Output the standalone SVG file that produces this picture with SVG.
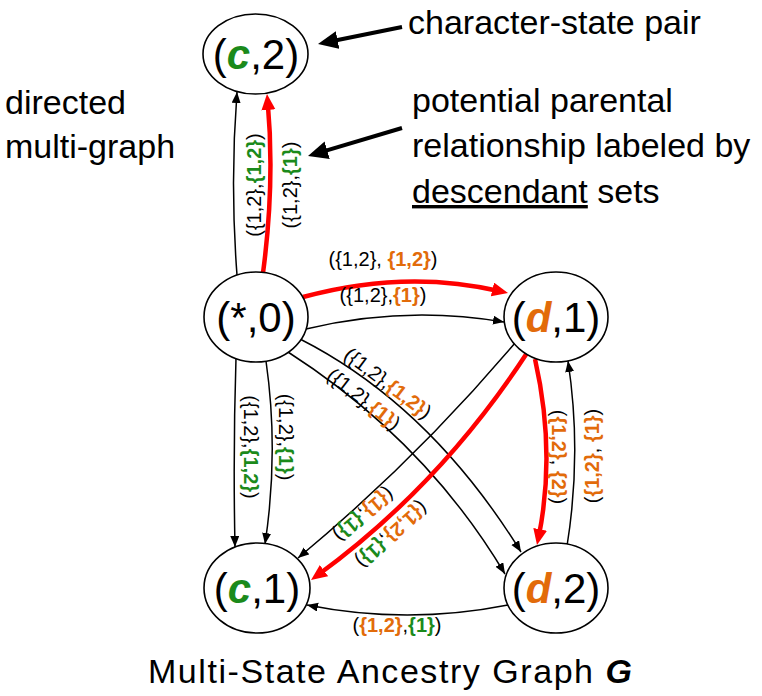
<svg xmlns="http://www.w3.org/2000/svg" width="762" height="696" viewBox="0 0 762 696">
<style>
text{font-family:"Liberation Sans",Arial,sans-serif;fill:#000}
.node ellipse{fill:#fff;stroke:#000;stroke-width:1.6}
.nl{font-size:42px;text-anchor:middle}
.g{fill:#1B8A1B;font-weight:bold}
.o{fill:#E26B0A;font-weight:bold}
.v{font-style:italic;font-weight:bold}
.el{font-size:20px;text-anchor:middle}
.ann{font-size:34px}
.bk{fill:none;stroke:#000;stroke-width:1.5;marker-end:url(#ab)}
.rd{fill:none;stroke:#f00;stroke-width:4.5;marker-end:url(#ar)}
.an{fill:none;stroke:#000;stroke-width:4;marker-end:url(#aa)}
</style>
<defs>
<marker id="ab" markerUnits="userSpaceOnUse" markerWidth="12" markerHeight="10" refX="11" refY="4.5" orient="auto"><path d="M0,0 L11,4.5 L0,9 z" fill="#000"/></marker>
<marker id="ar" markerUnits="userSpaceOnUse" markerWidth="18" markerHeight="16" refX="8" refY="7" orient="auto"><path d="M0,0 L16,7 L0,14 z" fill="#f00"/></marker>
<marker id="aa" markerUnits="userSpaceOnUse" markerWidth="22" markerHeight="20" refX="10" refY="9" orient="auto"><path d="M0,0 L20,9 L0,18 z" fill="#000"/></marker>
</defs>

<g id="connectors">
<path class="bk" d="M237,275 Q230,183 237,92"/>
<path class="rd" d="M263,273 Q275,183 267.7,102"/>
<path class="rd" d="M303,297 Q405,269 500.2,291.2"/>
<path class="bk" d="M306,329 Q405,305 504,322"/>
<path class="bk" d="M300,339 Q430,405 521,552"/>
<path class="bk" d="M288,352 Q425,440 505,574"/>
<path class="bk" d="M236,358 Q233,452 235,547"/>
<path class="bk" d="M266,361 Q279,452 265,544"/>
<path class="bk" d="M515,343 Q416,460 298,558"/>
<path class="rd" d="M527,353 Q440,486 317.5,575.3"/>
<path class="rd" d="M535,359 Q556,452 538.6,537.2"/>
<path class="bk" d="M567,546 Q582,453 568,361"/>
<path class="bk" d="M508,605 Q407,625 307,605"/>
</g>

<g id="edge-labels">
<text class="el" transform="translate(254,185) rotate(-90)" y="7">({1,2},<tspan class="g">{1,2}</tspan>)</text>
<text class="el" transform="translate(290,185) rotate(-90)" y="7">({1,2},<tspan class="g">{1}</tspan>)</text>
<text class="el" x="383" y="266">({1,2}, <tspan class="o">{1,2}</tspan>)</text>
<text class="el" x="383" y="302">({1,2},<tspan class="o">{1}</tspan>)</text>
<text class="el" transform="translate(388,383) rotate(37)" y="7">({1,2},<tspan class="o">{1,2}</tspan>)</text>
<text class="el" transform="translate(364,399) rotate(38)" y="7">({1,2},<tspan class="o">{1}</tspan>)</text>
<text class="el" transform="translate(251,447) rotate(90)" y="7">({1,2},<tspan class="g">{1,2}</tspan>)</text>
<text class="el" transform="translate(286,437) rotate(90)" y="7">({1,2},<tspan class="g">{1}</tspan>)</text>
<text class="el" transform="translate(364,515) rotate(140)" y="7">(<tspan class="o">{1}</tspan>,<tspan class="g">{1}</tspan>)</text>
<text class="el" transform="translate(392,535) rotate(138)" y="7">(<tspan class="o">{1,2}</tspan>,<tspan class="g">{1}</tspan>)</text>
<text class="el" transform="translate(559,457) rotate(90)" y="7">(<tspan class="o">{1,2}</tspan>, <tspan class="o">{2}</tspan>)</text>
<text class="el" transform="translate(592,456) rotate(-90)" y="7">(<tspan class="o">{1,2}</tspan>, <tspan class="o">{1}</tspan>)</text>
<text class="el" x="397" y="632">(<tspan class="o">{1,2}</tspan>,<tspan class="g">{1}</tspan>)</text>
</g>

<g id="n-c2" class="node"><ellipse cx="255.5" cy="54" rx="52.5" ry="40"/><text class="nl" x="256" y="69">(<tspan class="v g">c</tspan>,2)</text></g>
<g id="n-star0" class="node"><ellipse cx="256" cy="317" rx="52" ry="45"/><text class="nl" x="256" y="332">(*,0)</text></g>
<g id="n-d1" class="node"><ellipse cx="556" cy="317" rx="52" ry="45"/><text class="nl" x="556" y="332">(<tspan class="v o">d</tspan>,1)</text></g>
<g id="n-c1" class="node"><ellipse cx="257" cy="588" rx="53" ry="45"/><text class="nl" x="257" y="603">(<tspan class="v g">c</tspan>,1)</text></g>
<g id="n-d2" class="node"><ellipse cx="556" cy="588" rx="52" ry="45"/><text class="nl" x="556" y="603">(<tspan class="v o">d</tspan>,2)</text></g>

<g id="annotations">
<path class="an" d="M402,27 L327.8,42"/>
<path class="an" d="M402,128 L317.6,153.1"/>
<text class="ann" x="408" y="34">character-state pair</text>
<text class="ann" x="5" y="114">directed</text>
<text class="ann" x="5" y="158">multi-graph</text>
<text class="ann" x="412" y="112">potential parental</text>
<text class="ann" x="412" y="157">relationship labeled by</text>
<text class="ann" x="412" y="203"><tspan style="text-decoration:underline">descendant</tspan> sets</text>
<text class="ann" x="148" y="683" textLength="484">Multi-State Ancestry Graph <tspan style="font-weight:bold;font-style:italic">G</tspan></text>
</g>
</svg>
